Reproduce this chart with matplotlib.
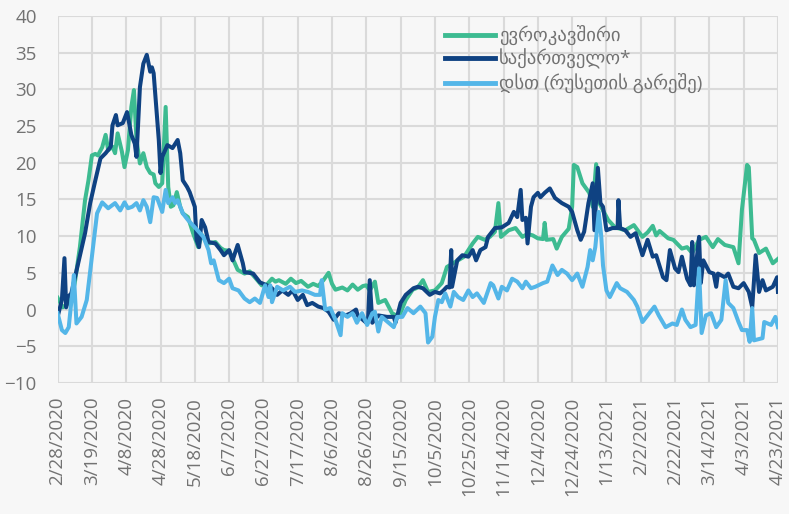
import numpy as np
import pandas as pd
import matplotlib
matplotlib.use('Agg')
import matplotlib.pyplot as plt

plt.rcParams['font.family'] = ['Open Sans', 'DejaVu Sans']

start = pd.Timestamp('2020-02-28')

# days since 2/28/2020 and values
eu_days = [0, 3, 6, 8, 10, 13, 16, 18, 20, 22, 23.5, 26, 28, 29.5, 32, 33.5, 35, 37.5, 39, 41,
           43, 44.5, 46, 48, 50, 52, 54, 56, 57, 59, 61, 63, 64.5, 66, 67.5, 69.5, 71.5, 73, 76, 79,
           82, 84, 86, 88, 92, 95, 97, 100, 102, 105, 109, 112, 115, 119, 122, 125, 127, 129, 133, 136,
           139, 142, 146, 149, 152, 155, 158, 160, 162, 166, 169, 172, 175, 178, 180, 182, 185, 187, 191, 195,
           199, 203, 207, 210, 213, 216, 220, 224, 227, 232, 237, 242, 245, 249, 252, 255, 257, 258.5, 263, 267,
           271, 274, 277, 280, 283, 284, 285, 289, 291, 294, 298, 300, 301, 303, 306, 310, 312, 314, 315, 318,
           321, 325, 328, 331, 336, 341, 344, 347, 349, 351, 356, 359, 364, 367, 370, 374, 378, 382, 385, 389,
           394, 397, 399, 402, 403, 405, 406, 409, 413, 417, 420]
eu_vals = [1.6, 0.3, 0.8, 1.5, 3.6, 8.5, 14.9, 17.6, 21, 21.2, 21, 22.1, 23.8, 21.7, 22.2, 21.3, 24, 21.5, 19.4, 21.7,
           27.6, 29.9, 23.1, 19.9, 21.3, 19.4, 18.6, 18.4, 17.2, 16.7, 17.2, 27.6, 16.7, 14, 14.2, 16, 14, 13.1, 12.6, 10.4,
           8.5, 10.2, 9.5, 9, 9.2, 8.4, 8.1, 8, 7, 5.4, 4.9, 5.2, 4.4, 3.3, 3.4, 4.2, 3.8, 4, 3.5, 4.2,
           3.6, 3.9, 3.1, 3.5, 3.2, 4, 5, 3.5, 2.7, 3, 2.6, 3.4, 2.7, 3.2, 3.3, 2.6, 3.8, 0.9, 1.3, -0.5,
           -1, 1.3, 2.7, 3, 4, 2.4, 2.6, 3.6, 5.8, 6.5, 7.2, 9, 9.9, 9.5, 9.9, 10.6, 14.5, 9.9, 10.8, 11.1,
           9.9, 10.3, 10.1, 9.7, 9.6, 11.8, 9.5, 9.6, 8.3, 9.9, 11, 14, 19.7, 19.4, 17.2, 15.9, 14, 19.8, 14.9, 13.5,
           12.2, 11.2, 11, 10.8, 11.5, 9.9, 10.5, 11.4, 10.1, 10.7, 9.7, 9.5, 8.3, 8.5, 7.7, 9.5, 9.9, 8.5, 9.6, 8.8,
           8.5, 6.3, 13.6, 19.7, 19.4, 9.7, 9.5, 7.7, 8.3, 6.3, 6.9]

geo_days = [0, 2.5, 4, 5, 6, 8, 12, 16, 19, 22, 25, 28, 31, 32, 34, 35, 38, 40.5, 43, 45,
            46, 48, 50, 52, 54, 55, 56, 59, 60, 61, 64, 67, 70, 71.5, 73, 75.5, 77, 80, 81, 82.5,
            84, 86, 88, 92, 95, 97, 100, 102, 105, 108, 109, 114, 118, 122, 125, 128, 131, 134.5, 137, 140,
            143, 145.5, 148.5, 152, 155, 158, 161, 164, 168, 171, 174, 175, 180, 181, 182, 183.5, 187, 192, 196, 197,
            200, 203, 207.5, 210, 213, 217, 220, 223, 225, 227, 228.5, 229.5, 230, 233, 236, 239.5, 242, 244, 246.5, 249.5,
            251, 255, 259, 263, 266, 268, 270, 271, 273, 274, 276, 277.5, 280, 281.5, 284, 287, 290, 294, 298, 300,
            303, 305, 307, 309.5, 312, 313, 315, 316.5, 318, 320, 323.5, 326.5, 327, 328, 331, 334, 337, 341, 344, 347,
            349, 353, 355, 357, 360, 362, 364, 367, 369, 370, 371, 374, 375, 376.5, 380, 382.5, 384, 385, 389, 391,
            394, 397, 400, 403, 405, 407, 409, 411, 413, 417, 419.5, 420]
geo_vals = [-1, 1.3, 7, 0.3, 1.7, 2.2, 6.3, 10.4, 14.5, 17.6, 20.6, 21.3, 22.2, 25.1, 26.5, 25.1, 25.4, 26.9, 23.8, 22.6,
            20.8, 30.3, 33.5, 34.7, 32.4, 33, 32.2, 23.1, 18.6, 20.8, 22.4, 22, 23.1, 21.3, 17.6, 16.7, 16, 14, 9.5, 8.5,
            12.2, 11.2, 9.2, 9, 8.1, 7.4, 8.1, 6.7, 8.8, 6.3, 5.1, 4.9, 3.7, 3.3, 2.9, 2, 2.6, 2, 2.6, 1.3,
            2, 0.6, 0.9, 0.4, 0.2, -0.3, -1.4, -0.5, -0.8, -0.5, 0, -0.8, -1.8, -1.4, 4, -1.8, -0.8, -1, -1, -1.8,
            0.9, 2, 2.9, 3.1, 2.9, 2, 2.4, 2.2, 2.6, 3.1, 3, 8.1, 3.1, 6.7, 7.4, 7.2, 8.1, 6.7, 8.1, 8.5,
            9.9, 11.1, 11.2, 11.8, 13.3, 12.6, 16.3, 12.2, 12.5, 9, 14, 15.3, 15.9, 15.3, 15.9, 16.5, 15.2, 14.5, 14, 13.3,
            10.8, 9.5, 10.6, 14.5, 17.2, 10.8, 19.3, 14.5, 14, 10.8, 11.1, 11.1, 14.9, 11.1, 10.8, 9.9, 10.4, 7.4, 9.5, 7.2,
            7.4, 4.4, 4, 8.1, 5.6, 5.1, 7.2, 4.2, 3.3, 9.2, 3.3, 9.9, 3.6, 6.7, 5.1, 4.9, 3.1, 4.9, 4.4, 4.9,
            3.1, 2.9, 3.6, 2.4, 0.3, 7.4, 2.4, 4, 2.6, 3.1, 4.4, 2.4]

cis_days = [0, 2.5, 4.5, 6.5, 8.5, 9.5, 11, 14, 17, 20, 23, 26, 29.5, 33.5, 36.5, 39, 41, 43.5, 46, 48,
            50, 52, 54, 56, 58, 61, 63, 64.5, 67, 68.5, 70, 73, 76, 80, 85, 88, 89.5, 91, 94, 97,
            100, 102, 105.5, 109, 112, 115, 118, 121, 123, 124, 125, 128, 131.5, 135.5, 138.5, 142.5, 146, 150, 153, 154,
            156, 159, 162, 165, 166, 169, 172, 174.5, 177.5, 180.5, 183.5, 185, 187, 189, 193, 196, 198, 201, 204, 207.5,
            211.5, 214.5, 216, 218.5, 220, 222, 224, 226, 229, 231, 233.5, 236.5, 239.5, 242, 244.5, 248.5, 252.5, 254, 257, 259,
            262, 265, 268, 271, 273, 276, 278.5, 283, 285.5, 288.5, 291.5, 294, 297, 300, 303, 306, 309, 310.5, 312, 313.5,
            315.5, 317, 318, 320, 322, 326, 328, 332, 336, 338, 341, 344, 348, 350.5, 354.5, 358.5, 361, 364, 366, 369,
            372, 374, 375.5, 378, 381, 384, 387, 389.5, 391, 394, 397, 399, 402, 403.5, 405, 406, 411, 412, 416, 418.5,
            420]
cis_vals = [-0.5, -2.8, -3.2, -2.4, 2.2, 4.7, -1.9, -1, 1.3, 7.2, 13.1, 14.6, 13.8, 14.5, 13.5, 14.6, 13.8, 14, 14.5, 13.5,
            14.9, 14, 11.9, 15.3, 15.2, 13.3, 16.3, 14.5, 15.3, 14.5, 14.9, 13.1, 12.2, 11.2, 9.9, 8.1, 6.3, 6.7, 4, 3.6,
            4.2, 2.9, 2.6, 1.5, 1, 1.5, 0.9, 3.3, 1.7, 3.3, 1, 3.1, 2.6, 3.1, 2.4, 2.6, 2.4, 2, 2, 4,
            0, 0.2, -1.4, -3.5, -0.5, -1, -0.5, -1.8, -0.5, -2.1, -0.5, -0.3, -3, -1, -1.8, -2.4, -1, -1, 0.2, -0.5,
            0.4, -0.5, -4.5, -3.7, -1, 1.3, 1, 2.2, 0.4, 2.4, 1.7, 1.3, 2.6, 1.7, 2.2, 0.9, 3.6, 3.3, 1.5, 3.1,
            2.6, 4.2, 3.8, 2.9, 3.8, 2.9, 3.1, 3.6, 3.8, 6, 4.7, 5.4, 4.9, 4, 4.9, 3.1, 5.8, 8.1, 6.7, 8.5,
            13.3, 9.9, 6, 2.6, 1.7, 3.6, 2.9, 2.4, 1.3, 0.4, -1.7, -0.8, 0.4, -0.8, -2.4, -1.9, -2.1, 0, -1.4, -2.4,
            -2.1, 5.6, -3.2, -0.8, -0.5, -2.4, -1.4, 4, 0.9, 0.2, -1.7, -2.8, -2.8, -4.4, 0.2, -4.2, -3.9, -1.7, -2.1, -1,
            -2.4]

labels = ['ევროკავშირი', 'საქართველო*', 'დსთ (რუსეთის გარეშე)']
colors = ['#3dbb91', '#0f4282', '#54b6e8']

fig = plt.figure(figsize=(7.89, 5.14), dpi=100, facecolor='#f7f7f7')
ax = fig.add_axes([0.073, 0.255, 0.913, 0.714])
ax.set_facecolor('#f7f7f7')

series = [(eu_days, eu_vals), (geo_days, geo_vals), (cis_days, cis_vals)]
for (d, v), lab, c in zip(series, labels, colors):
    x = start + pd.to_timedelta(np.array(d), unit='D')
    ax.plot(x, v, color=c, lw=2.9, label=lab, solid_joinstyle='round')

ticks = start + pd.to_timedelta(np.arange(0, 421, 20), unit='D')
ax.set_xticks(ticks)
ax.set_xticklabels([f"{t.month}/{t.day}/{t.year}" for t in ticks], rotation=90)
ax.set_xlim(ticks[0], ticks[-1])
ax.set_ylim(-10, 40)
ax.set_yticks(np.arange(-10, 41, 5))

ax.grid(True, color='#dadada', lw=1.5)
ax.set_axisbelow(True)
for s in ax.spines.values():
    s.set_visible(False)
ax.tick_params(axis='both', length=0, labelsize=13.5, colors='#727272')
ax.tick_params(axis='y', pad=15)
ax.tick_params(axis='x', pad=10)

leg = ax.legend(loc='upper left', bbox_to_anchor=(0.532, 0.985), frameon=False,
                fontsize=13.5, handlelength=2.7, handletextpad=0.2, labelspacing=0.2,
                borderaxespad=0, borderpad=0.2)
for h in leg.get_lines():
    h.set_linewidth(3.5)
for t in leg.get_texts():
    t.set_color('#727272')

fig.savefig('out.png', dpi=100, facecolor=fig.get_facecolor())
